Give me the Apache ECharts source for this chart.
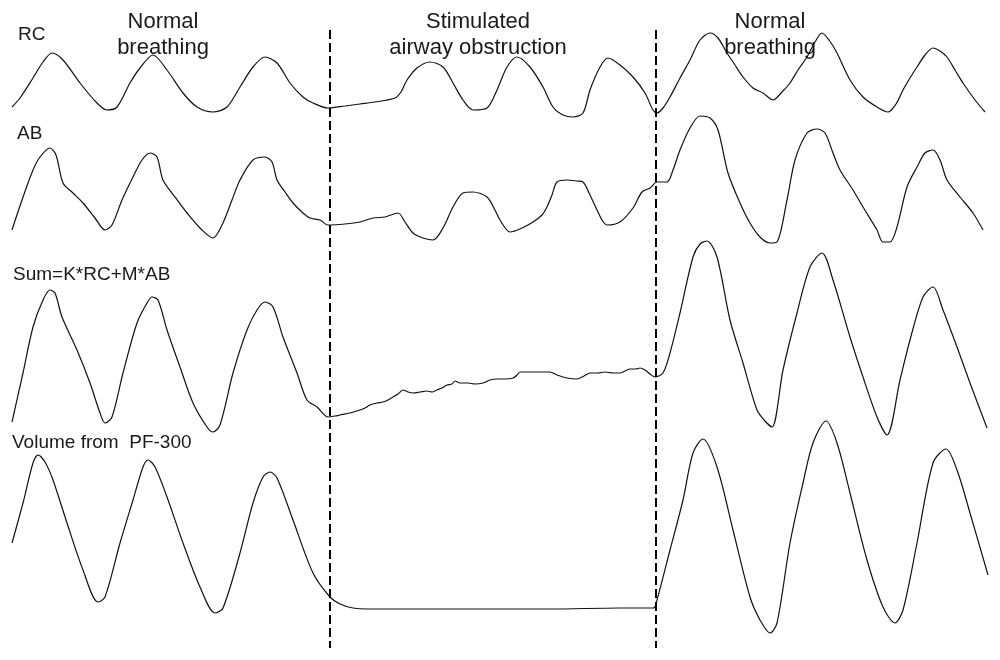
<!DOCTYPE html>
<html>
<head>
<meta charset="utf-8">
<script src="https://cdn.jsdelivr.net/npm/echarts@6/dist/echarts.min.js"></script>
<style>html,body{margin:0;padding:0;background:#fff}#c{width:1000px;height:660px}</style>
</head>
<body>
<div id="c"></div>
<script>
// Time axis in screen-time units (0..1000), signal level in display units (0 top .. 660 bottom)
const rcTrace = [
 [12,107],[20,98],[33,78],[43,62],[52,53],[63,60],[80,83],[97,103],[107,110],[117,107],[130,83],[140,68],[153,55],[167,70],[183,93],[197,107],[213,112],[227,107],[240,87],[253,67],[265,57],[277,63],[290,83],[303,97],[313,103],[328,108],
 [345,106],[360,104],[375,102],[395,98],[401,92],[407,80],[417,68],[430,62],[443,67],[453,83],[463,100],[473,110],[487,108],[497,90],[507,67],[517,57],[530,67],[543,87],[553,107],[563,115],[573,117],[583,113],[590,90],[600,67],[608,58],[620,65],[633,77],[645,93],[653,110],
 [657,113],[663,108],[670,97],[680,78],[690,60],[700,40],[710,33],[718,38],[727,53],[735,65],[743,77],[753,88],[763,93],[773,100],[782,92],[790,83],[798,70],[807,57],[815,42],[822,33],[829,40],[837,53],[850,80],[863,97],[877,107],[888,112],[896,104],[903,90],[910,78],[917,67],[925,55],[933,48],[940,51],[947,57],[955,70],[963,83],[975,100],[985,112]
];
const abTrace = [
 [12,230],[22,200],[33,170],[40,157],[50,148],[56,155],[63,183],[73,193],[83,203],[95,218],[105,230],[112,225],[122,200],[133,177],[142,160],[150,153],[157,157],[163,180],[175,197],[187,213],[200,228],[213,238],[222,225],[232,200],[240,180],[253,160],[265,157],[272,162],[277,180],[285,192],[293,203],[303,213],[310,218],[320,220],[328,225],
 [345,224],[360,222],[373,218],[385,217],[398,213],[405,222],[413,233],[423,238],[433,240],[443,228],[453,207],[463,193],[473,192],[487,197],[495,210],[500,220],[510,232],[522,228],[533,222],[542,215],[547,207],[552,195],[557,182],[567,180],[577,181],[583,182],[590,195],[597,210],[602,220],[607,225],[620,222],[633,208],[642,192],[650,188],
 [657,182],[667,182],[673,170],[680,150],[690,128],[700,116],[710,118],[718,130],[728,173],[740,203],[750,223],[760,237],[770,243],[777,242],[787,200],[795,160],[807,133],[817,129],[825,133],[833,153],[840,170],[853,190],[863,207],[877,230],[883,242],[890,242],[897,227],[907,187],[917,167],[925,153],[933,150],[940,160],[947,180],[960,197],[973,213],[983,230]
];
const sumTrace = [
 [12,422],[23,373],[33,327],[43,300],[50,290],[55,293],[62,317],[77,350],[90,383],[100,413],[105,423],[112,417],[123,373],[137,323],[147,303],[152,297],[158,300],[167,330],[180,367],[193,403],[207,427],[213,432],[220,425],[233,373],[247,330],[257,310],[265,302],[273,307],[283,337],[297,373],[307,400],[317,407],[328,417],
 [335,416],[340,415],[350,413],[360,410],[365,408],[370,405],[377,403],[383,402],[388,400],[393,397],[398,394],[403,390],[408,392],[413,393],[420,392],[427,391],[432,392],[437,390],[442,388],[447,385],[452,384],[455,381],[460,383],[468,383],[475,384],[483,383],[490,380],[497,379],[505,379],[513,378],[517,375],[520,372],[530,372],[540,372],[550,372],[557,375],[567,378],[577,379],[584,376],[590,373],[598,373],[605,372],[613,373],[620,373],[625,371],[630,369],[636,369],[640,368],[645,370],[650,374],[655,377],
 [663,373],[670,353],[680,313],[693,257],[700,244],[707,241],[717,257],[730,320],[743,363],[757,410],[765,421],[772,427],[783,370],[797,313],[810,267],[822,253],[833,280],[850,337],[863,377],[877,417],[887,435],[900,380],[910,340],[923,297],[933,287],[943,310],[957,347],[970,383],[987,428]
];
const volumeTrace = [
 [12,543],[23,503],[33,463],[38,455],[45,462],[53,480],[67,523],[83,570],[98,602],[105,597],[120,543],[133,500],[143,467],[148,460],[155,467],[167,497],[183,543],[200,587],[215,613],[223,608],[240,553],[253,503],[263,477],[270,472],[277,478],[293,520],[313,573],[330,597],[340,604],
 [353,608],[367,609],[450,609],[550,609],[620,608],[653,608],
 [655,607],[670,550],[683,500],[693,453],[703,439],[717,467],[733,530],[750,597],[760,620],[770,633],[777,623],[790,543],[803,483],[813,443],[826,421],[837,443],[850,493],[867,560],[883,607],[895,623],[903,610],[917,543],[933,463],[946,449],[957,470],[970,513],[988,575]
];
const dividerTimes = [330, 656];
const dividerSpan = [30, 648];
const phaseTitles = [
 {t:163, lines:['Normal','breathing']},
 {t:478, lines:['Stimulated','airway obstruction']},
 {t:770, lines:['Normal','breathing']}
];
const traceLabels = ['RC','AB','Sum=K*RC+M*AB','Volume from  PF-300'];

const chart = echarts.init(document.getElementById('c'), null, {renderer:'canvas'});
const lineStyle = {color:'#111', width:1.2};
const traces = [rcTrace, abTrace, sumTrace, volumeTrace];
const series = traces.map((d,i)=>({
  type:'line', name:traceLabels[i], data:d, showSymbol:false, smooth:0.3,
  lineStyle:lineStyle, silent:true
}));
dividerTimes.forEach(t=>{
  series.push({type:'line', data:[[t,dividerSpan[0]],[t,dividerSpan[1]]], showSymbol:false,
    lineStyle:{color:'#000', width:2, type:[9,4]}, silent:true});
});
const font = '"Liberation Sans", Arial, sans-serif';
const graphics = [];
const titleY = [22, 48];
phaseTitles.forEach(p=>{
  p.lines.forEach((ln,k)=>{
    graphics.push({type:'text', x:p.t, y:titleY[k], style:{text:ln, fill:'#1a1a1a', font:'22px '+font, textAlign:'center', textVerticalAlign:'middle'}});
  });
});
const labelPos = [[18,35],[17,134],[13,275],[12,443]];
traceLabels.forEach((l,i)=>{
  graphics.push({type:'text', x:labelPos[i][0], y:labelPos[i][1], style:{text:l, fill:'#1a1a1a', font:'19px '+font, textAlign:'left', textVerticalAlign:'middle'}});
});
chart.setOption({
  animation:false,
  grid:{left:0,right:0,top:0,bottom:0},
  xAxis:{type:'value', min:0, max:1000, show:false},
  yAxis:{type:'value', min:0, max:660, inverse:true, show:false},
  series:series,
  graphic:graphics
});
</script>
</body>
</html>
